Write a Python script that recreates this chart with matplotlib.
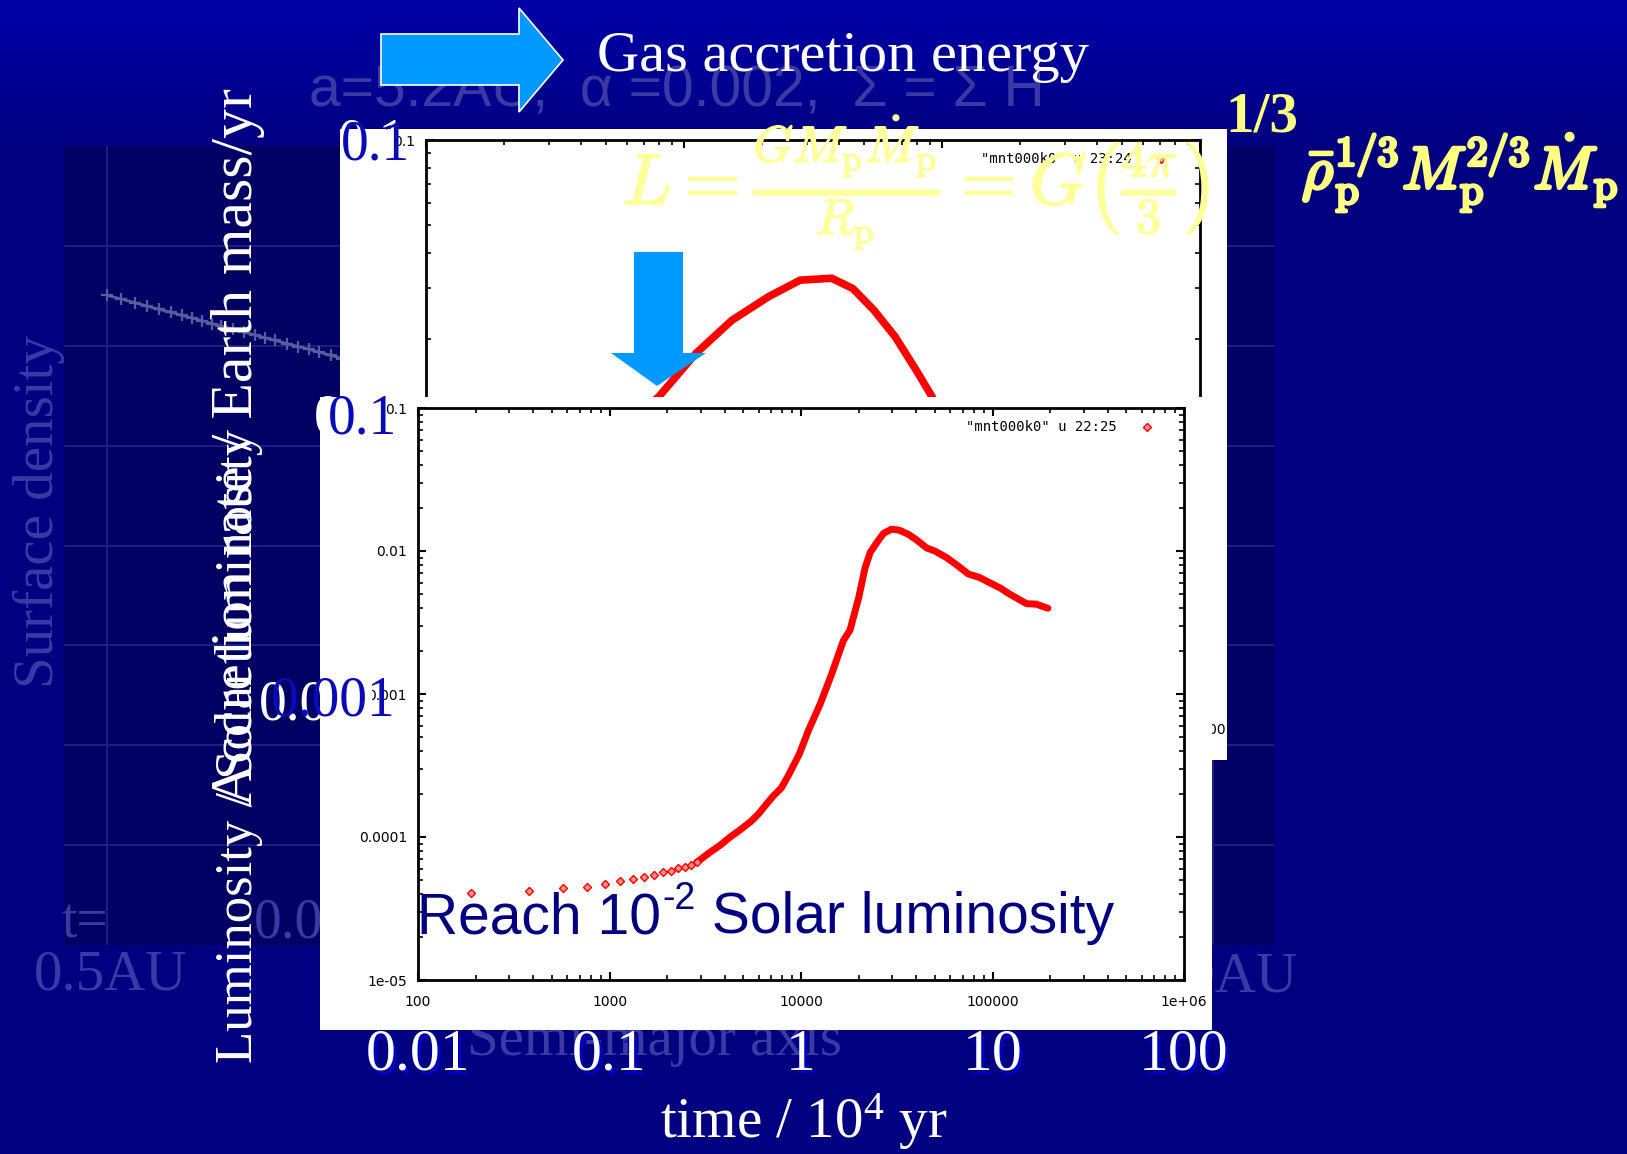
import numpy as np
import matplotlib
matplotlib.use('Agg')
import matplotlib.pyplot as plt
from matplotlib.patches import Rectangle, Polygon
from matplotlib import patheffects as pe
from matplotlib.ticker import FixedLocator, FixedFormatter, LogLocator, NullFormatter
import matplotlib.transforms as mtransforms

W, H = 1627, 1154
DPI = 100

# ---------------- data ----------------
# front chart: luminosity / solar luminosity vs time [yr]
front_time_sparse = [190, 380, 570, 760, 950, 1140, 1330, 1520, 1710, 1900,
                     2090, 2280, 2470, 2660, 2850]
front_lum_sparse = [4.03e-5, 4.2e-5, 4.4e-5, 4.5e-5, 4.7e-5, 4.9e-5, 5.05e-5,
                    5.26e-5, 5.4e-5, 5.65e-5, 5.83e-5, 6.05e-5, 6.2e-5, 6.4e-5, 6.65e-5]
front_time_dense = [2850, 3000, 3340, 3800, 4270, 4800, 5460, 6000, 6560, 7200,
                    7890, 8600, 9800, 10960, 12590, 14460, 16640, 18030, 20000,
                    21600, 23000, 24840, 27000, 29680, 32500, 36300, 40000,
                    45300, 50000, 57500, 65000, 74800, 85000, 96700, 110000,
                    122800, 137000, 150900, 169500, 182000, 194700]
front_lum_dense = [6.65e-5, 7.0e-5, 7.8e-5, 8.8e-5, 1.0e-4, 1.12e-4, 1.28e-4,
                   1.45e-4, 1.68e-4, 1.95e-4, 2.2e-4, 2.7e-4, 3.8e-4, 5.6e-4,
                   8.5e-4, 1.38e-3, 2.36e-3, 2.8e-3, 4.7e-3, 7.6e-3, 9.8e-3,
                   1.14e-2, 1.33e-2, 1.42e-2, 1.40e-2, 1.31e-2, 1.20e-2,
                   1.05e-2, 1.00e-2, 9.0e-3, 8.0e-3, 6.9e-3, 6.55e-3, 6.0e-3,
                   5.5e-3, 5.0e-3, 4.6e-3, 4.28e-3, 4.25e-3, 4.1e-3, 3.98e-3]

# back chart: accretion rate [Earth mass / yr] vs time [yr]
back_time = [565, 800, 1110, 1535, 2130, 2820, 3735, 4510, 5440, 6580, 7930,
             9140, 11750]
back_rate = [9.5e-3, 1.25e-2, 1.77e-2, 2.32e-2, 2.81e-2, 3.21e-2, 3.26e-2,
             3.0e-2, 2.52e-2, 2.03e-2, 1.55e-2, 1.25e-2, 8.1e-3]

# faded background chart: surface density vs semi-major axis [AU]
faded_a = [0.50, 0.53, 0.56, 0.59, 0.62, 0.65, 0.68, 0.71, 0.74, 0.77, 0.80,
           0.84, 0.88, 0.92, 0.96, 1.00, 1.05, 1.10, 1.15, 1.20, 1.26, 1.32,
           1.38, 1.45, 1.52]
faded_sigma = [3.20e6, 2.93e6, 2.70e6, 2.49e6, 2.31e6, 2.16e6, 2.02e6, 1.89e6,
               1.78e6, 1.67e6, 1.58e6, 1.47e6, 1.37e6, 1.28e6, 1.20e6, 1.13e6,
               1.05e6, 9.8e5, 9.2e5, 8.6e5, 8.0e5, 7.4e5, 7.0e5, 6.5e5, 6.0e5]

front_xticks = [1e2, 1e3, 1e4, 1e5, 1e6]
front_xticklabels = ['100', '1000', '10000', '100000', '1e+06']
front_yticks = [1e-1, 1e-2, 1e-3, 1e-4, 1e-5]
front_yticklabels = ['0.1', '0.01', '0.001', '0.0001', '1e-05']
back_xticks = [1e2, 1e3, 1e4, 1e5]
back_xticklabels = ['100', '1000', '10000', '100000']
back_yticks = [1e-1, 1e-2, 1e-3]
back_yticklabels = ['0.1', '0.01', '0.001']
time_tick_values = [1e2, 1e3, 1e4, 1e5, 1e6]
time_tick_labels = ['0.01', '0.1', '1', '10', '100']

# ---------------- styles ----------------
SERIF = ['Liberation Serif', 'DejaVu Serif']
SANS = ['Liberation Sans', 'DejaVu Sans']
NAVY = '#000080'
FADED = '#3a3aa6'
BLUE_LBL = '#0a0ab8'
ARROW = '#0099ff'
plt.rcParams['mathtext.fontset'] = 'custom'
plt.rcParams['mathtext.rm'] = 'Liberation Serif'
plt.rcParams['mathtext.it'] = 'Liberation Serif:italic'
plt.rcParams['mathtext.bf'] = 'Liberation Serif:bold'

fig = plt.figure(figsize=(W / DPI, H / DPI), dpi=DPI)


def px_axes(x0, y0, x1, y1, z):
    return fig.add_axes([x0 / W, 1 - y1 / H, (x1 - x0) / W, (y1 - y0) / H], zorder=z)


def overlay(z):
    ax = fig.add_axes([0, 0, 1, 1], zorder=z)
    ax.set_xlim(0, W)
    ax.set_ylim(H, 0)
    ax.axis('off')
    ax.patch.set_visible(False)
    return ax


def gnuplot_style(ax):
    ax.set_xscale('log')
    ax.set_yscale('log')
    ax.patch.set_visible(False)
    for s in ax.spines.values():
        s.set_linewidth(2)
        s.set_color('black')
    ax.tick_params(which='both', direction='in', top=True, right=True,
                   colors='black', labelsize=10, labelfontfamily='DejaVu Sans')
    ax.tick_params(which='major', length=6, width=1.5)
    ax.tick_params(which='minor', length=3.5, width=1.2)
    ax.tick_params(axis='x', pad=11)
    ax.tick_params(axis='y', pad=8)
    ax.xaxis.set_minor_locator(LogLocator(base=10, subs=np.arange(2, 10)))
    ax.yaxis.set_minor_locator(LogLocator(base=10, subs=np.arange(2, 10)))
    ax.xaxis.set_minor_formatter(NullFormatter())
    ax.yaxis.set_minor_formatter(NullFormatter())


# ---------------- layer 0: slide background ----------------
bg = overlay(0)
rows = np.ones((H, 1, 3)) * np.array([0, 0, 128 / 255])
top_fade = np.clip(1 - np.arange(H) / 150.0, 0, 1)
rows[:, 0, 2] = (128 + 40 * top_fade) / 255
bg.imshow(rows, extent=[0, W, H, 0], aspect='auto', zorder=0)

# ---------------- layer 1: faded surface density chart ----------------
axf = px_axes(64, 146, 1274, 945, 1)
axf.set_facecolor('#000064')
axf.set_xscale('log')
axf.set_yscale('log')
axf.set_xlim(0.418, 61.8)
axf.set_ylim(1, 1e8)
axf.xaxis.set_major_locator(FixedLocator([0.5, 48]))
axf.yaxis.set_major_locator(FixedLocator([1e1, 1e2, 1e3, 1e4, 1e5, 1e6, 1e7]))
axf.xaxis.set_minor_locator(FixedLocator([]))
axf.yaxis.set_minor_locator(FixedLocator([]))
axf.grid(True, color='#1e1e86', lw=1.4)
axf.tick_params(length=0, labelleft=False, labelbottom=False)
for s in axf.spines.values():
    s.set_visible(False)
axf.plot(faded_a, faded_sigma, color='#5a5a9e', lw=2, marker='+', ms=8, mew=1.6)

# ---------------- layer 2: faded texts + back white panel ----------------
mid1 = overlay(2)
mid1.text(39, 512, 'Surface density', rotation=90, ha='center', va='center',
          color=FADED, fontsize=41, family=SERIF)
mid1.text(111, 975, '0.5AU', ha='center', va='center', color=FADED, fontsize=41, family=SERIF)
mid1.text(62, 923, 't=', ha='left', va='center', color=FADED, fontsize=40, family=SERIF)
mid1.text(254, 923, '0.01', ha='left', va='center', color=FADED, fontsize=40, family=SERIF)
mid1.text(1297, 978, '10AU', ha='right', va='center', color=FADED, fontsize=41, family=SERIF)
mid1.text(654, 1041, 'Semi-major axis', ha='center', va='center', color=FADED,
          fontsize=41, family=SERIF)
mid1.text(309, 91, 'a=5.2AU,  α =0.002,  Σ = Σ H', ha='left', va='center',
          color=FADED, fontsize=41, family=SANS)
mid1.add_patch(Rectangle((340, 129), 887, 631, facecolor='white', edgecolor='none'))
mid1.text(1132, 159, '"mnt000k0" u 23:24', ha='right', va='center', color='black',
          fontsize=10, family='DejaVu Sans Mono')
mid1.plot([1161], [159], 'D', ms=4, mfc='#ff9090', mec='red', mew=1)

# ---------------- layer 3: back chart (accretion rate) ----------------
axb = px_axes(426, 140, 1200, 708, 3)
gnuplot_style(axb)
axb.set_xlim(1e2, 1e5)
axb.set_ylim(1e-3, 1e-1)
axb.xaxis.set_major_locator(FixedLocator(back_xticks))
axb.xaxis.set_major_formatter(FixedFormatter(back_xticklabels))
axb.yaxis.set_major_locator(FixedLocator(back_yticks))
axb.yaxis.set_major_formatter(FixedFormatter(back_yticklabels))
axb.plot(back_time, back_rate, '-', color='red', lw=5.5, solid_capstyle='round')

# ---------------- layer 4: front white panel ----------------
mid2 = overlay(4)
mid2.add_patch(Rectangle((320, 397), 892, 633, facecolor='white', edgecolor='none'))
mid2.text(1117, 427, '"mnt000k0" u 22:25', ha='right', va='center', color='black',
          fontsize=10, family='DejaVu Sans Mono')
mid2.plot([1147], [427], 'D', ms=4, mfc='#ff9090', mec='red', mew=1)

# ---------------- layer 5: front chart (luminosity) ----------------
ax = px_axes(418, 408, 1184, 980, 5)
gnuplot_style(ax)
ax.set_xlim(1e2, 1e6)
ax.set_ylim(1e-5, 1e-1)
ax.xaxis.set_major_locator(FixedLocator(front_xticks))
ax.xaxis.set_major_formatter(FixedFormatter(front_xticklabels))
ax.yaxis.set_major_locator(FixedLocator(front_yticks))
ax.yaxis.set_major_formatter(FixedFormatter(front_yticklabels))
ax.plot(front_time_dense, front_lum_dense, '-', color='red', lw=5, solid_capstyle='round')
ax.plot(front_time_sparse, front_lum_sparse, 'D', ms=4.5, mfc='#ff9090', mec='red', mew=1)

# ---------------- layer 6: slide overlay ----------------
top = overlay(6)

# arrows
top.add_patch(Polygon([(381, 34), (519, 34), (519, 8), (563, 60), (519, 112),
                       (519, 85), (381, 85)], closed=True, facecolor=ARROW,
                      edgecolor='white', lw=1.2))
top.add_patch(Polygon([(634, 252), (683, 252), (683, 353), (706, 353), (657, 386),
                       (611, 353), (634, 353)], closed=True, facecolor=ARROW,
                      edgecolor='none'))

top.text(597, 57, 'Gas accretion energy', ha='left', va='center', color='white',
         fontsize=42, family=SERIF)

# formula
top.text(917, 182, r'$L=\frac{GM_{\rm p}\dot{M}_{\rm p}}{R_{\rm p}}=G\left(\frac{4\pi}{3}\right)$',
         ha='center', va='center', color='#ffff99', fontsize=52, math_fontfamily='cm',
         path_effects=[pe.withStroke(linewidth=1.2, foreground='#ffff99')])
top.text(1262, 118, '1/3', ha='center', va='center', color='#ffff80', fontsize=41,
         family=SERIF, fontweight='bold')
top.text(1302, 172, r'$\bar{\rho}_{\rm p}^{1/3}M_{\rm p}^{2/3}\dot{M}_{\rm p}$',
         ha='left', va='center', color='#ffff80', fontsize=43, math_fontfamily='cm',
         path_effects=[pe.withStroke(linewidth=2.5, foreground='#ffff80')])

# y labels (white, rotated)
top.text(252, 1063, 'Luminosity / Solar luminosity', rotation=90, rotation_mode='anchor',
         ha='left', va='baseline', color='white', fontsize=38, family=SERIF)
top.text(252, 88, 'Accretion rate / Earth mass/yr', rotation=90, rotation_mode='anchor',
         ha='right', va='baseline', color='white', fontsize=43, family=SERIF)

# big y tick labels (white copies and blue)
for (xr, yc, s, dx, dy) in [(410, 145, '0.1', -3, -2), (397, 420, '0.1', -14, 0),
                            (396, 702, '0.001', -12, 3)]:
    top.text(xr + dx, yc + dy, s, ha='right', va='center', color='white',
             fontsize=40, family=SERIF)
    top.text(xr, yc, s, ha='right', va='center', color=BLUE_LBL,
             fontsize=40, family=SERIF)

# x tick labels in units of 10^4 yr, positioned through the front axes scale
blend = mtransforms.blended_transform_factory(ax.transData, top.transData)
shadow = mtransforms.offset_copy(blend, fig=fig, x=3, y=-3, units='dots')
for v, s in zip(time_tick_values, time_tick_labels):
    top.text(v, 1056, s, transform=shadow, ha='center', va='center', color='#0000c8',
             fontsize=43, family=SERIF)
    top.text(v, 1056, s, transform=blend, ha='center', va='center', color='white',
             fontsize=43, family=SERIF)

top.text(804, 1122, r'time / 10$^{\mathregular{4}}$ yr', ha='center', va='center',
         color='white', fontsize=41, family=SERIF)

# "Reach 10^-2 Solar luminosity" with a hyphen in the superscript
t1 = top.text(417, 918, 'Reach 10', ha='left', va='center', color=NAVY,
              fontsize=41, family=SANS)
t2 = top.annotate('-2', xy=(1.0, 1.0), xycoords=t1, xytext=(1, 7),
                  textcoords='offset points', ha='left', va='top', color=NAVY,
                  fontsize=27, family=SANS)
top.annotate(' Solar luminosity', xy=(1.0, 0.5), xycoords=(t2, t1), ha='left',
             va='center', color=NAVY, fontsize=41, family=SANS)

fig.savefig('out.png', dpi=DPI)
